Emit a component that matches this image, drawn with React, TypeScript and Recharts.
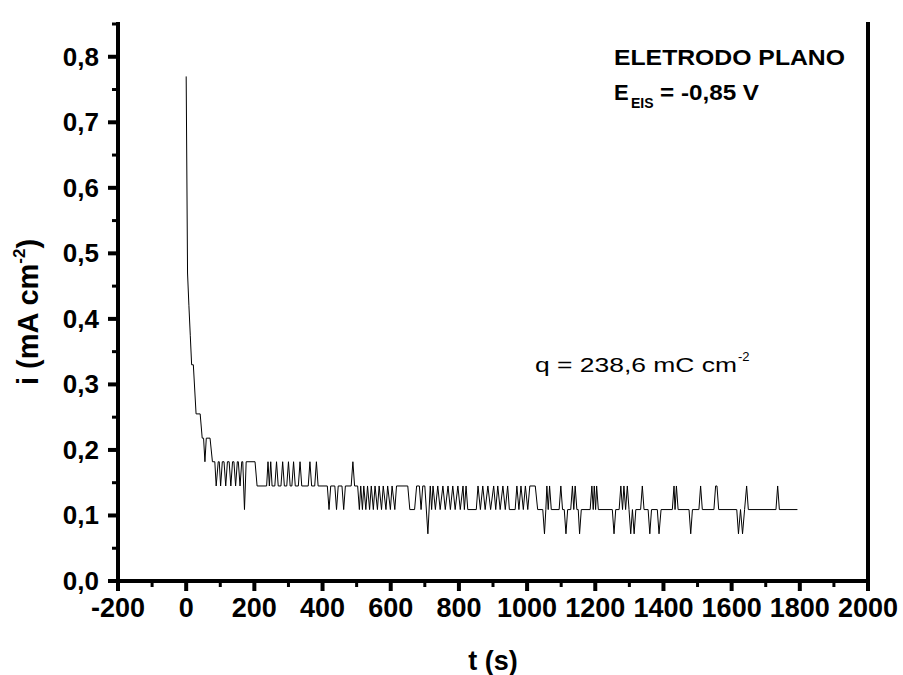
import React from 'react';
import { LineChart, Line, XAxis, YAxis, ReferenceLine, Customized } from 'recharts';

// Chronoamperometry: time (s) and current density (mA cm^-2), vertices
const timeS = [
  0, 4, 8, 12, 16, 21, 29, 41, 47, 51, 55, 59, 70, 77, 84, 88, 94, 97, 101, 106, 111, 116, 121, 126, 131, 136, 140, 145, 150, 153, 158, 163, 166, 171, 176, 202, 208, 236,
  240, 244, 248, 252, 260, 265, 270, 278, 283, 288, 295, 300, 305, 310, 315, 320, 329, 334, 339, 358, 363, 368, 377, 382, 387,
  414, 419, 424, 436, 441, 446, 457, 462, 467, 484, 489, 494, 503,
  508, 512, 517, 521, 527, 532, 538, 543, 549, 554, 561, 566, 573, 578, 586, 591, 599, 604, 612, 617, 650, 656, 670, 676, 684, 689, 694, 700, 709, 716,
  720, 724, 731, 738, 745, 753, 760, 768, 775, 782, 789, 797, 804, 812, 816, 821, 826, 851, 856, 863, 870, 877, 885, 893, 902, 908, 914, 921, 929, 936, 943, 948,
  965, 970, 976, 982, 989, 995, 1002, 1008, 1024, 1031, 1046, 1051, 1055, 1058, 1062, 1066, 1071, 1094, 1099, 1104, 1109, 1114, 1119, 1128, 1133, 1137, 1141, 1146, 1150, 1154, 1159, 1185, 1190, 1194, 1197, 1201, 1204, 1209, 1250, 1255, 1260, 1270, 1275, 1280, 1284, 1289, 1294, 1299, 1304, 1309, 1314, 1319, 1333, 1338, 1343, 1355, 1360, 1365, 1382, 1387, 1393,
  1426, 1431, 1434, 1438, 1443, 1475, 1480, 1485, 1504, 1509, 1514, 1548, 1553, 1557, 1562, 1615, 1620, 1626, 1632, 1638, 1644, 1649, 1730, 1735, 1740, 1793,
];

const currentMA = [
  0.77, 0.47, 0.42, 0.375, 0.33, 0.33, 0.255, 0.255, 0.218, 0.218, 0.182, 0.218, 0.218, 0.182, 0.182, 0.145, 0.182, 0.182, 0.145, 0.182, 0.182, 0.145, 0.182, 0.182, 0.145, 0.182, 0.182, 0.145, 0.182, 0.182, 0.145, 0.182, 0.182, 0.109, 0.182, 0.182, 0.145, 0.145,
  0.182, 0.145, 0.182, 0.145, 0.145, 0.182, 0.145, 0.145, 0.182, 0.145, 0.145, 0.182, 0.145, 0.145, 0.182, 0.145, 0.145, 0.182, 0.145, 0.145, 0.182, 0.145, 0.145, 0.182, 0.145,
  0.145, 0.109, 0.145, 0.145, 0.109, 0.145, 0.145, 0.109, 0.145, 0.145, 0.182, 0.145, 0.145,
  0.109, 0.145, 0.109, 0.145, 0.109, 0.145, 0.109, 0.145, 0.109, 0.145, 0.109, 0.145, 0.109, 0.145, 0.109, 0.145, 0.109, 0.145, 0.109, 0.145, 0.145, 0.109, 0.109, 0.145, 0.145, 0.109, 0.145, 0.145, 0.072, 0.145,
  0.109, 0.145, 0.109, 0.145, 0.109, 0.145, 0.109, 0.145, 0.109, 0.145, 0.109, 0.145, 0.109, 0.145, 0.109, 0.145, 0.109, 0.109, 0.145, 0.109, 0.145, 0.109, 0.145, 0.109, 0.145, 0.109, 0.145, 0.109, 0.145, 0.109, 0.145, 0.109,
  0.109, 0.145, 0.109, 0.145, 0.109, 0.145, 0.109, 0.145, 0.145, 0.109, 0.109, 0.072, 0.109, 0.145, 0.109, 0.145, 0.109, 0.109, 0.145, 0.109, 0.109, 0.072, 0.109, 0.109, 0.145, 0.109, 0.145, 0.109, 0.109, 0.072, 0.109, 0.109, 0.145, 0.109, 0.145, 0.109, 0.145, 0.109, 0.109, 0.072, 0.109, 0.109, 0.145, 0.109, 0.145, 0.109, 0.145, 0.109, 0.072, 0.109, 0.072, 0.109, 0.109, 0.145, 0.109, 0.109, 0.072, 0.109, 0.109, 0.072, 0.109,
  0.109, 0.145, 0.109, 0.145, 0.109, 0.109, 0.072, 0.109, 0.109, 0.145, 0.109, 0.109, 0.145, 0.145, 0.109, 0.109, 0.072, 0.109, 0.072, 0.109, 0.145, 0.109, 0.109, 0.145, 0.109, 0.109,
];

const xMajorTicks = [-200, 0, 200, 400, 600, 800, 1000, 1200, 1400, 1600, 1800, 2000];
const xMinorTicks = [-100, 100, 300, 500, 700, 900, 1100, 1300, 1500, 1700, 1900];
const yMajorTicks = [0, 0.1, 0.2, 0.3, 0.4, 0.5, 0.6, 0.7, 0.8];
const yMinorTicks = [0.05, 0.15, 0.25, 0.35, 0.45, 0.55, 0.65, 0.75, 0.85];

const xTitle = 't (s)';
const yTitleMain = 'i (mA cm';
const yTitleSup = '-2';
const annotTitle = 'ELETRODO PLANO';
const annotPotMain = 'E';
const annotPotSub = 'EIS';
const annotPotRest = '= -0,85 V';
const chargeMain = 'q = 238,6 mC cm';
const chargeSup = '-2';

const data = timeS.map((t, k) => ({ t, i: currentMA[k] }));
const xTicksAll = [...xMajorTicks, ...xMinorTicks].sort((a, b) => a - b);
const yTicksAll = [...yMajorTicks, ...yMinorTicks].sort((a, b) => a - b);

const FONT = '"Liberation Sans", Arial, Helvetica, sans-serif';
const isMajor = (arr: number[], v: number) => arr.some((m) => Math.abs(m - v) < 1e-9);

const BottomTick = (props: any) => {
  const { x, y, payload } = props;
  const v = payload.value;
  const major = isMajor(xMajorTicks, v);
  return (
    <g>
      <line x1={x} x2={x} y1={y} y2={y + (major ? 10 : 6)} stroke="#000" strokeWidth={major ? 4 : 3} />
      {major && (
        <text x={x} y={y + 36} textAnchor="middle" fontFamily={FONT} fontWeight="bold" fontSize={27} fill="#000">
          {String(v)}
        </text>
      )}
    </g>
  );
};

const TopTick = (props: any) => {
  const { x, y, payload } = props;
  const major = isMajor(xMajorTicks, payload.value);
  return <line x1={x} x2={x} y1={y} y2={y - (major ? 10 : 6)} stroke="#000" strokeWidth={major ? 4 : 3} />;
};

const LeftTick = (props: any) => {
  const { x, y, payload } = props;
  const v = payload.value;
  const major = isMajor(yMajorTicks, v);
  return (
    <g>
      <line x1={x} x2={x - (major ? 10 : 6)} y1={y} y2={y} stroke="#000" strokeWidth={major ? 4 : 3} />
      {major && (
        <text x={x - 19} y={y + 9} textAnchor="end" fontFamily={FONT} fontWeight="bold" fontSize={26} fill="#000">
          {v.toFixed(1).replace('.', ',')}
        </text>
      )}
    </g>
  );
};

const Annotations = () => (
  <g fontFamily={FONT} fill="#000">
    <text x={614} y={65} fontSize={22} fontWeight="bold" textLength={231} lengthAdjust="spacingAndGlyphs">
      {annotTitle}
    </text>
    <text x={614} y={100} fontSize={22} fontWeight="bold">{annotPotMain}</text>
    <text x={631} y={108} fontSize={14} fontWeight="bold">{annotPotSub}</text>
    <text x={660} y={100} fontSize={22} fontWeight="bold" textLength={99} lengthAdjust="spacingAndGlyphs">
      {annotPotRest}
    </text>
    <text x={535} y={371.5} fontSize={20} textLength={202} lengthAdjust="spacingAndGlyphs">{chargeMain}</text>
    <text x={738} y={361} fontSize={13}>{chargeSup}</text>
    <text x={493} y={670} fontSize={27} fontWeight="bold" textAnchor="middle">{xTitle}</text>
    <g transform="translate(38, 312) rotate(-90)">
      <text x={0} y={0} fontSize={29} fontWeight="bold" textAnchor="middle">
        {yTitleMain}
        <tspan dy={-13} fontSize={17}>{yTitleSup}</tspan>
        <tspan dy={13}>)</tspan>
      </text>
    </g>
  </g>
);

export default function App() {
  const axisLine = { stroke: '#000', strokeWidth: 4, strokeLinecap: 'square' as const };
  return (
    <div style={{ position: 'absolute', left: 0, top: 0, background: '#fff' }}>
      <LineChart width={903} height={675} data={data} margin={{ top: 24, right: 35, bottom: 0, left: 0 }}>
        <XAxis
          dataKey="t"
          type="number"
          domain={[-200, 2000]}
          ticks={xTicksAll}
          interval={0}
          allowDataOverflow
          height={94}
          tickSize={0}
          tickMargin={0}
          tickLine={false}
          axisLine={axisLine}
          tick={BottomTick}
        />
        <XAxis
          xAxisId="top"
          orientation="top"
          dataKey="t"
          type="number"
          domain={[-200, 2000]}
          ticks={xTicksAll}
          interval={0}
          allowDataOverflow
          height={0}
          tickSize={0}
          tickMargin={0}
          tickLine={false}
          axisLine={axisLine}
          tick={TopTick}
        />
        <YAxis
          type="number"
          domain={[0, 0.85]}
          ticks={yTicksAll}
          interval={0}
          allowDataOverflow
          width={118}
          tickSize={0}
          tickMargin={0}
          tickLine={false}
          axisLine={axisLine}
          tick={LeftTick}
        />
        <ReferenceLine x={2000} stroke="#000" strokeWidth={4} strokeLinecap="square" />
        <Line
          type="linear"
          dataKey="i"
          stroke="#000"
          strokeWidth={1}
          dot={false}
          activeDot={false}
          isAnimationActive={false}
        />
        <Customized component={Annotations} />
      </LineChart>
    </div>
  );
}
